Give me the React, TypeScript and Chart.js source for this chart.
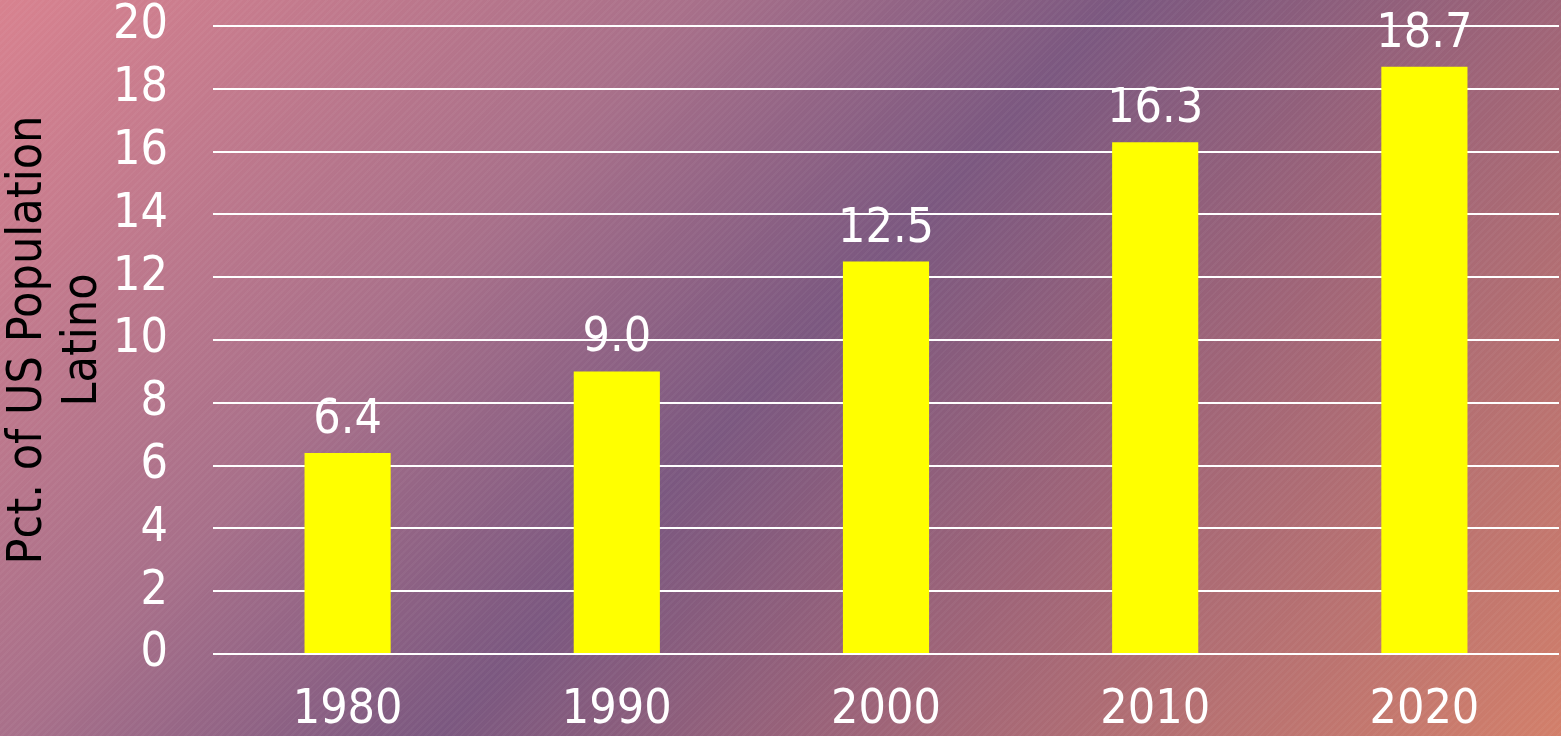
import React, { useEffect, useRef } from "react";
import { Chart, registerables } from "chart.js";

Chart.register(...registerables);

const categories = ["1980", "1990", "2000", "2010", "2020"];
const latinoPct = [6.4, 9.0, 12.5, 16.3, 18.7];
const yTicks = [0, 2, 4, 6, 8, 10, 12, 14, 16, 18, 20];
const yTitle = ["Pct. of US Population", "Latino"];

const FONT = "'DejaVu Sans Condensed', 'DejaVu Sans', sans-serif";

const valueLabels = {
  id: "valueLabels",
  afterDatasetsDraw(chart: any) {
    const ctx = chart.ctx;
    const meta = chart.getDatasetMeta(0);
    ctx.save();
    ctx.font = `48px ${FONT}`;
    ctx.fillStyle = "#ffffff";
    ctx.textAlign = "center";
    ctx.textBaseline = "alphabetic";
    meta.data.forEach((bar: any, i: number) => {
      const v = chart.data.datasets[0].data[i] as number;
      ctx.fillText(v.toFixed(1), bar.x, bar.y - 20);
    });
    ctx.restore();
  },
};

export default function App() {
  const ref = useRef<HTMLCanvasElement | null>(null);
  useEffect(() => {
    document.body.style.margin = "0";
    if (!ref.current) return;
    const chart = new Chart(ref.current, {
      type: "bar",
      data: {
        labels: categories,
        datasets: [
          {
            data: latinoPct,
            backgroundColor: "#ffff00",
            borderWidth: 0,
            categoryPercentage: 1,
            barPercentage: 0.32,
          },
        ],
      },
      options: {
        responsive: false,
        animation: false,
        layout: { padding: { top: 26, right: 2, left: 0, bottom: 0 } },
        plugins: { legend: { display: false }, tooltip: { enabled: false } },
        scales: {
          x: {
            grid: { display: false, drawTicks: false },
            border: { display: false },
            ticks: {
              color: "#ffffff",
              font: { family: FONT, size: 48 },
              padding: 28,
              maxRotation: 0,
              autoSkip: false,
            },
            afterFit: (s: any) => {
              s.height = 82;
              s.paddingLeft = 0;
              s.paddingRight = 0;
            },
          },
          y: {
            min: 0,
            max: 20,
            afterBuildTicks: (s: any) => {
              s.ticks = yTicks.map((v) => ({ value: v }));
            },
            grid: { color: "#ffffff", lineWidth: 2, drawTicks: false },
            border: { display: false },
            ticks: {
              color: "#ffffff",
              font: { family: FONT, size: 48, lineHeight: 1 },
              padding: 45,
              autoSkip: false,
            },
            title: {
              display: true,
              text: yTitle,
              color: "#000000",
              font: { family: FONT, size: 48, lineHeight: 1.15 },
              padding: { top: 1, bottom: 0 },
            },
            afterFit: (s: any) => {
              s.width = 213;
              s.paddingTop = 0;
              s.paddingBottom = 0;
            },
          },
        },
      },
      plugins: [valueLabels],
    });
    return () => chart.destroy();
  }, []);
  return (
    <div
      style={{
        position: "fixed",
        left: 0,
        top: 0,
        width: 1561,
        height: 736,
        background:
          "repeating-linear-gradient(135deg, rgba(255,255,255,0.035) 0px, rgba(255,255,255,0.035) 2px, rgba(0,0,0,0) 2px, rgba(0,0,0,0) 5px), linear-gradient(133deg, #d8828f 0%, #a8708a 31%, #7b5880 50%, #9e6478 69%, #d27f6a 100%)",
      }}
    >
      <canvas ref={ref} width={1561} height={736} style={{ display: "block" }} />
    </div>
  );
}
